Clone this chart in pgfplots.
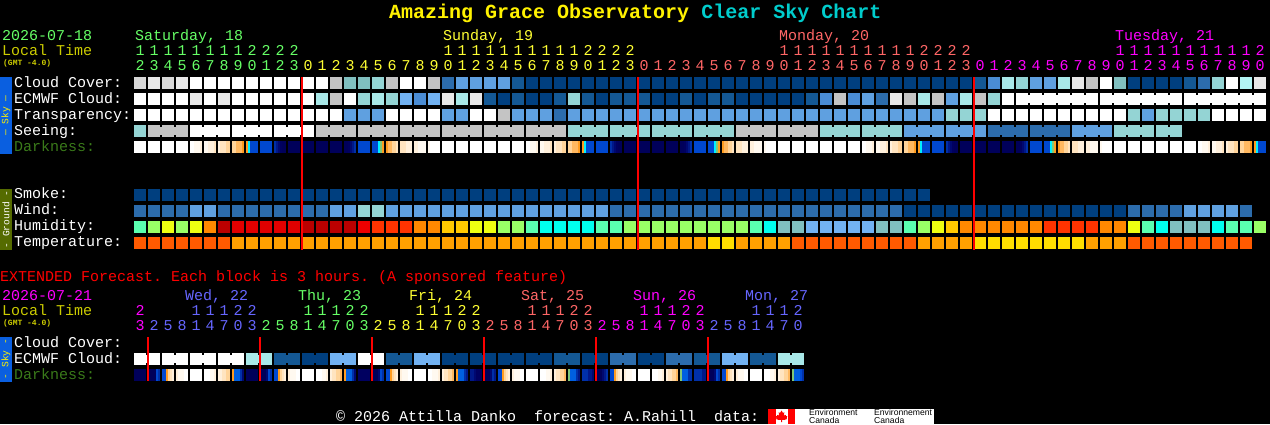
\documentclass[border=0pt]{standalone}
\usepackage{fontspec}
\usepackage{pgfplots}
\usepackage{pgfplotstable}
\pgfplotsset{compat=1.18}
\setmainfont{Liberation Mono}
\newfontfamily\flagfont{Liberation Sans}
\newcommand\txt{\frenchspacing\fontsize{15}{15}\selectfont}
\newcommand\ttl{\bfseries\fontsize{20}{20}\selectfont}

\definecolor{cz}{HTML}{003F7F}\definecolor{cy}{HTML}{145894}\definecolor{cx}{HTML}{2C6CAC}
\definecolor{cp}{HTML}{4A8CD4}\definecolor{cv}{HTML}{5FA0E0}\definecolor{cu}{HTML}{72B2F2}
\definecolor{ct}{HTML}{80BFBF}\definecolor{cs}{HTML}{94D4D4}\definecolor{cq}{HTML}{A8E8E8}
\definecolor{ci}{HTML}{B2F4F4}\definecolor{cg}{HTML}{C4C4C4}\definecolor{cm}{HTML}{D8D8D8}
\definecolor{cl}{HTML}{E8E8E8}
\definecolor{hM}{HTML}{5AFFB0}\definecolor{hG}{HTML}{99FF66}\definecolor{hY}{HTML}{EEFF11}
\definecolor{hF}{HTML}{FFC800}\definecolor{hO}{HTML}{FF8800}\definecolor{hD}{HTML}{BB0000}
\definecolor{hE}{HTML}{E00000}\definecolor{hB}{HTML}{EE0000}\definecolor{hR}{HTML}{FF3300}
\definecolor{hC}{HTML}{00FFEE}\definecolor{hH}{HTML}{FF5A00}\definecolor{hA}{HTML}{FFA000}
\definecolor{hL}{HTML}{FFDD00}
\definecolor{da}{HTML}{FFF9F0}\definecolor{db}{HTML}{FFF0DC}\definecolor{dc}{HTML}{FFE4C0}
\definecolor{dd}{HTML}{FFD49A}\definecolor{de}{HTML}{FFB860}\definecolor{df}{HTML}{FF9C20}
\definecolor{dg}{HTML}{00F0FF}\definecolor{dh}{HTML}{80C878}\definecolor{di}{HTML}{0060E0}
\definecolor{dj}{HTML}{0048D0}\definecolor{dk}{HTML}{0030A8}\definecolor{dl}{HTML}{001888}
\definecolor{dm}{HTML}{000870}\definecolor{dn}{HTML}{000060}\definecolor{do}{HTML}{00005A}
\definecolor{tgreen}{HTML}{66FF66}\definecolor{tyellow}{HTML}{FFFF33}\definecolor{tsalmon}{HTML}{FF6666}
\definecolor{tmag}{HTML}{FF00FF}\definecolor{tblue}{HTML}{6666FF}\definecolor{tlocal}{HTML}{CCCC00}
\definecolor{tdark}{HTML}{3A7A1A}\definecolor{skyblue}{HTML}{0A5FE0}\definecolor{ground}{HTML}{556B00}
\definecolor{ccyan}{HTML}{00CCCC}

% block, stripe and joint shapes, sizes in picture pixels
\pgfdeclareplotmark{cell}{\pgfpathrectanglecorners{\pgfpoint{-6pt}{-6pt}}{\pgfpoint{6pt}{6pt}}\pgfusepathqfill}
\pgfdeclareplotmark{joint}{\pgfpathrectanglecorners{\pgfpoint{-1.1pt}{-4pt}}{\pgfpoint{1.1pt}{4pt}}\pgfusepathqfill}
\pgfdeclareplotmark{stripe}{\pgfpathrectanglecorners{\pgfpoint{-1.05pt}{-6pt}}{\pgfpoint{1.05pt}{6pt}}\pgfusepathqfill}

\pgfplotsset{
  blocks/.style={
    scatter, only marks, scatter src=explicit symbolic,
    scatter/classes={
      z={fill=cz},y={fill=cy},x={fill=cx},p={fill=cp},v={fill=cv},u={fill=cu},
      t={fill=ct},s={fill=cs},q={fill=cq},i={fill=ci},g={fill=cg},m={fill=cm},
      l={fill=cl},w={fill=white},n={fill=black},
      M={fill=hM},G={fill=hG},Y={fill=hY},F={fill=hF},O={fill=hO},D={fill=hD},
      E={fill=hE},B={fill=hB},R={fill=hR},C={fill=hC},H={fill=hH},A={fill=hA},L={fill=hL}},
  },
  dark/.style={
    scatter, only marks, mark=stripe, scatter src=explicit symbolic,
    scatter/classes={
      w={fill=white},a={fill=da},b={fill=db},c={fill=dc},d={fill=dd},e={fill=de},
      f={fill=df},g={fill=dg},h={fill=dh},i={fill=di},j={fill=dj},k={fill=dk},
      l={fill=dl},m={fill=dm},n={fill=dn},o={fill=do}},
  },
  digits/.style={
    only marks, mark=none, point meta=explicit symbolic,
    nodes near coords, nodes near coords align=center,
    every node near coord/.style={anchor=base, inner sep=0pt, text=#1, font=\txt},
  },
}

% hourly forecast, one line per column
\pgfplotstableread{
col t o cl ec ej tr se sj sm wi hu te
0 1 2 m w n w s n z x M H
1 1 3 l w n w g g z x G H
2 1 4 m w n w g g z x Y H
3 1 5 l w n w g n z x G H
4 1 6 w l n w w w z v Y H
5 1 7 w w n w w w z v O H
6 1 8 w l n w w n z x D H
7 1 9 w w n w w w z x E A
8 2 0 w w n w w w z x E A
9 2 1 w w n w w n z x E A
10 2 2 w w n w w w z x E A
11 2 3 w w n w w w z x E A
12 {} 0 w w n w w n z x D A
13 {} 1 w q n w g g z x D A
14 {} 2 g g n w g g z v D A
15 {} 3 t w n v g n z v D A
16 {} 4 t s n v g g z s B A
17 {} 5 s q n v g g z s R A
18 {} 6 g s n w g n z v R A
19 {} 7 w u n w g g z v R A
20 {} 8 w p n w g g z v O A
21 {} 9 g u n w g n z v O A
22 1 0 x l n v g g z v F A
23 1 1 v q n v g g z v F A
24 1 2 v l n w g n z v Y A
25 1 3 v y n w g g z v Y A
26 1 4 v z n g g g z v G A
27 1 5 y y n v g n z v G A
28 1 6 z z n v g g z v M A
29 1 7 z z n v g g z v C A
30 1 8 z y n x g n z v C A
31 1 9 z s n v s s z v C A
32 2 0 z y n v s s z v C A
33 2 1 z z n v s n z v M A
34 2 2 z y n v s s z x M A
35 2 3 z y n v s s z x G A
36 {} 0 z y n v s n z x G A
37 {} 1 z z n v s s z x G A
38 {} 2 z z n v s s z x G A
39 {} 3 z y n v s n z x G A
40 {} 4 z z n v s s z x G A
41 {} 5 z y n v s s z x G L
42 {} 6 z y n v s n z x G L
43 {} 7 z z n v g g z x G A
44 {} 8 z z n v g g z x M A
45 {} 9 z z n v g n z x C A
46 1 0 z z n v g g z x t A
47 1 1 z z n v g g z x t H
48 1 2 z y n v g n z x u H
49 1 3 z p n v s s z x u H
50 1 4 z g n v s s z x u H
51 1 5 z p n v s n z x u H
52 1 6 z v n v s s z x u H
53 1 7 z x n v s s z x t H
54 1 8 z l n v s n z x t H
55 1 9 z g n v v v z z M H
56 2 0 z q n v v v z z G A
57 2 1 z g n v v n n z Y A
58 2 2 z v n s v v n z F A
59 2 3 z q n s v v n z O A
60 {} 0 y g n s v n n z O L
61 {} 1 p s n w x x n z O L
62 {} 2 q w n w x x n z O L
63 {} 3 s w w w x n n z O L
64 {} 4 v w w w x x n z O L
65 {} 5 v w w w x x n z R L
66 {} 6 q w w w x n n z R L
67 {} 7 l w w w v v n z R L
68 {} 8 g w n w v v n z R A
69 {} 9 w w w w v n n z O A
70 1 0 t w w w s s n z O A
71 1 1 z w w s s s n x Y H
72 1 2 z w w v s n n x M H
73 1 3 z w w s s s n x C H
74 1 4 z w n s s n n x t H
75 1 5 y w w s n n n v t H
76 1 6 x w w s n n n v t H
77 1 7 s w w w n n n v C H
78 1 8 w w w w n n n v M H
79 1 9 i w w w n n n x M H
80 2 0 l w n w n n n n G n
}\hourly

% darkness, six stripes in each block
\pgfplotstableread{
col a b c d e f
0 w w w w w w
1 w w w w w w
2 w w w w w w
3 w w w w w w
4 w w a a a b
5 a a b b b c
6 b c c c d d
7 d d e e e f
8 f g j j j j
9 j j j j j j
10 k l m n o o
11 o o o o o o
12 o o o o o o
13 o o o o o o
14 o o o o o o
15 o o n m l k
16 j j j j j j
17 j j j g h f
18 f e e d d c
19 c c c b b b
20 b b a a a a
21 a w w w w w
22 w w w w w w
23 w w w w w w
24 w w w w w w
25 w w w w w w
26 w w w w w w
27 w w w w w w
28 w w a a a b
29 a a b b b c
30 b c c c d d
31 d d e e e f
32 f g j j j j
33 j j j j j j
34 k l m n o o
35 o o o o o o
36 o o o o o o
37 o o o o o o
38 o o o o o o
39 o o n m l k
40 j j j j j j
41 j j j g h f
42 f e e d d c
43 c c c b b b
44 b b a a a a
45 a w w w w w
46 w w w w w w
47 w w w w w w
48 w w w w w w
49 w w w w w w
50 w w w w w w
51 w w w w w w
52 w w a a a b
53 a a b b b c
54 b c c c d d
55 d d e e e f
56 f g j j j j
57 j j j j j j
58 k l m n o o
59 o o o o o o
60 o o o o o o
61 o o o o o o
62 o o o o o o
63 o o n m l k
64 j j j j j j
65 j j j g h f
66 f e e d d c
67 c c c b b b
68 b b a a a a
69 a w w w w w
70 w w w w w w
71 w w w w w w
72 w w w w w w
73 w w w w w w
74 w w w w w w
75 w w w w w w
76 w w a a a b
77 a a b b b c
78 b c c c d d
79 d d e e e f
80 f g j j j j
}\hourlydark

% extended forecast, one line per 3 hour column
\pgfplotstableread{
col t o ec ej a b c d e f
0 2 3 w w o o o o o o
1 {} 2 w n o o o o j k
2 {} 5 w w j j f d c b
3 {} 8 w n b a a a w w
4 1 1 w w w w w w w w
5 1 4 w n w w w a a b
6 1 7 w w b b c c d d
7 2 0 w n f i i i k m
8 2 3 q q o o o o o o
9 {} 2 q n o o o m j k
10 {} 5 y y j j f d c b
11 {} 8 y n b a a a w w
12 1 1 z z w w w w w w
13 1 4 z n w w w a a b
14 1 7 u u b c c d d e
15 2 0 u n f i i i k m
16 2 3 w w n n n n n n
17 {} 2 w n o o o m j k
18 {} 5 y y j j f d c b
19 {} 8 y n b a a a w w
20 1 1 u u w w w w w w
21 1 4 u n w w a a a b
22 1 7 z z b c c d d e
23 2 0 z n f i i i k l
24 2 3 z z l l m n n o
25 {} 2 z n o o o m k l
26 {} 5 z z j j f d c b
27 {} 8 z n b a a a w w
28 1 1 z z w w w w w w
29 1 4 z n w w w a a b
30 1 7 y y b c c d d e
31 2 0 y n h i i i k l
32 2 3 z z k k k l l m
33 {} 2 z n o o o m l k
34 {} 5 x x j j f d c b
35 {} 8 x n b a a a w w
36 1 1 z z w w w w w w
37 1 4 z n w w w a a b
38 1 7 x x b c c d d e
39 2 0 x n h i i i k k
40 2 3 y y k k k k l l
41 {} 2 y n o o o m j k
42 {} 5 u u j j f d c b
43 {} 8 u n b a a a w w
44 1 1 y y w w w w w w
45 1 4 y n w w w a a b
46 1 7 q q b c c d d e
47 2 0 q n h i i i j k
}\extended

% one row of blocks; #1 table, #2 column, #3 pixel y
\newcommand\blockrow[3]{\addplot[blocks, mark=cell] table[x expr=\thisrow{col}*14+140, y expr=#3, meta=#2] {#1};}
\newcommand\jointrow[3]{\addplot[blocks, mark=joint] table[x expr=\thisrow{col}*14+147, y expr=#3, meta=#2] {#1};}
\newcommand\darkrow[2]{%
  \addplot[dark] table[x expr=\thisrow{col}*14+135, y expr=#2, meta=a] {#1};
  \addplot[dark] table[x expr=\thisrow{col}*14+137, y expr=#2, meta=b] {#1};
  \addplot[dark] table[x expr=\thisrow{col}*14+139, y expr=#2, meta=c] {#1};
  \addplot[dark] table[x expr=\thisrow{col}*14+141, y expr=#2, meta=d] {#1};
  \addplot[dark] table[x expr=\thisrow{col}*14+143, y expr=#2, meta=e] {#1};
  \addplot[dark] table[x expr=\thisrow{col}*14+145, y expr=#2, meta=f] {#1};}
% hour digits; #1 table, #2 baseline of tens, #3 colour, #4 x range in pixels
\newcommand\hourdigits[4]{%
  \addplot[digits=#3, restrict x to domain=#4] table[x expr=\thisrow{col}*14+140, y expr=#2, meta=t] {#1};
  \addplot[digits=#3, restrict x to domain=#4] table[x expr=\thisrow{col}*14+140, y expr=#2+15, meta=o] {#1};}
\newcommand\lab[4][white]{\node[anchor=base west, inner sep=0pt, text=#1, font=\txt] at (axis cs:#2,#3) {#4};}

\begin{document}
\begin{tikzpicture}
\begin{axis}[
  width=1270pt, height=424pt, scale only axis,
  xmin=0, xmax=1270, ymin=0, ymax=424, y dir=reverse,
  ticks=none, axis line style={draw=none},
  axis background/.style={fill=black},
  clip mode=individual,
]
% side bars
\fill[skyblue] (axis cs:0,77) rectangle (axis cs:12,154);
\fill[ground] (axis cs:0,189) rectangle (axis cs:12,250);
\fill[skyblue] (axis cs:0,337) rectangle (axis cs:12,381.5);
\node[rotate=90, inner sep=0pt, text=yellow, font=\fontsize{9.6}{9.6}\selectfont] at (axis cs:6,115.5) {--- Sky ---};
\node[rotate=90, inner sep=0pt, text=white, font=\fontsize{9.6}{9.6}\selectfont] at (axis cs:6,219.5) {- Ground -};
\node[rotate=90, inner sep=0pt, text=yellow, font=\fontsize{9.6}{9.6}\selectfont] at (axis cs:6,359) {- Sky -};

% sky and ground rows
\blockrow{\hourly}{cl}{83}
\blockrow{\hourly}{ec}{99}
\jointrow{\hourly}{ej}{99}
\blockrow{\hourly}{tr}{115}
\blockrow{\hourly}{se}{131}
\jointrow{\hourly}{sj}{131}
\darkrow{\hourlydark}{147}
\blockrow{\hourly}{sm}{195}
\blockrow{\hourly}{wi}{211}
\blockrow{\hourly}{hu}{227}
\blockrow{\hourly}{te}{243}
% extended rows
\blockrow{\extended}{ec}{359}
\jointrow{\extended}{ej}{359}
\darkrow{\extended}{375}

% midnight lines
\addplot[red, line width=2pt] coordinates {(302,77) (302,250)};
\addplot[red, line width=2pt] coordinates {(638,77) (638,250)};
\addplot[red, line width=2pt] coordinates {(974,77) (974,250)};
\addplot[red, line width=2pt] coordinates {(148,337) (148,381)};
\addplot[red, line width=2pt] coordinates {(260,337) (260,381)};
\addplot[red, line width=2pt] coordinates {(372,337) (372,381)};
\addplot[red, line width=2pt] coordinates {(484,337) (484,381)};
\addplot[red, line width=2pt] coordinates {(596,337) (596,381)};
\addplot[red, line width=2pt] coordinates {(708,337) (708,381)};

% hour digits
\hourdigits{\hourly}{55}{tgreen}{135:300}
\hourdigits{\hourly}{55}{tyellow}{303:635}
\hourdigits{\hourly}{55}{tsalmon}{639:971}
\hourdigits{\hourly}{55}{tmag}{975:1265}
\hourdigits{\extended}{315}{tmag}{135:147}
\hourdigits{\extended}{315}{tblue}{148:259}
\hourdigits{\extended}{315}{tgreen}{260:371}
\hourdigits{\extended}{315}{tyellow}{372:483}
\hourdigits{\extended}{315}{tsalmon}{484:595}
\hourdigits{\extended}{315}{tmag}{596:707}
\hourdigits{\extended}{315}{tblue}{708:805}

% title
\node[anchor=base west, inner sep=0pt, font=\ttl] at (axis cs:389,18) {\textcolor{yellow}{Amazing Grace Observatory} \textcolor{ccyan}{Clear Sky Chart}};

% header text
\lab[tgreen]{2}{40}{2026-07-18}
\lab[tlocal]{2}{55}{Local Time}
\node[anchor=base west, inner sep=0pt, text=tlocal, font=\bfseries\fontsize{8}{8}\selectfont] at (axis cs:3,65) {(GMT -4.0)};
\lab[tgreen]{135}{40}{Saturday, 18}
\lab[tyellow]{443}{40}{Sunday, 19}
\lab[tsalmon]{779}{40}{Monday, 20}
\lab[tmag]{1115}{40}{Tuesday, 21}

% row labels
\lab{14}{87}{Cloud Cover:}
\lab{14}{103}{ECMWF Cloud:}
\lab{14}{119}{Transparency:}
\lab{14}{135}{Seeing:}
\lab[tdark]{14}{151}{Darkness:}
\lab{14}{198}{Smoke:}
\lab{14}{214}{Wind:}
\lab{14}{230}{Humidity:}
\lab{14}{246}{Temperature:}

% extended block text
\lab[red]{0}{281}{EXTENDED Forecast. Each block is 3 hours. (A sponsored feature)}
\lab[tmag]{2}{300}{2026-07-21}
\lab[tlocal]{2}{315}{Local Time}
\node[anchor=base west, inner sep=0pt, text=tlocal, font=\bfseries\fontsize{8}{8}\selectfont] at (axis cs:3,325) {(GMT -4.0)};
\lab[tblue]{185}{300}{Wed, 22}
\lab[tgreen]{298}{300}{Thu, 23}
\lab[tyellow]{409}{300}{Fri, 24}
\lab[tsalmon]{521}{300}{Sat, 25}
\lab[tmag]{633}{300}{Sun, 26}
\lab[tblue]{745}{300}{Mon, 27}
\lab{14}{347}{Cloud Cover:}
\lab{14}{363}{ECMWF Cloud:}
\lab[tdark]{14}{379}{Darkness:}

% footer and flag
\lab{336}{421}{© 2026 Attilla Danko~~forecast: A.Rahill~~data:}
\fill[white] (axis cs:768,409) rectangle (axis cs:934,424);
\fill[red] (axis cs:768,409) rectangle (axis cs:776,424);
\fill[red] (axis cs:788,409) rectangle (axis cs:795,424);
\fill[red] (axis cs:781.5,410.5) -- (axis cs:783,413) -- (axis cs:784.3,412.3) -- (axis cs:784,415.7) -- (axis cs:785.6,414.8) -- (axis cs:786.2,416) -- (axis cs:787.3,416) -- (axis cs:786.6,418.2) -- (axis cs:787,419) -- (axis cs:784,420) -- (axis cs:782,419.8) -- (axis cs:782,422) -- (axis cs:781,422) -- (axis cs:781,419.8) -- (axis cs:779,420) -- (axis cs:776,419) -- (axis cs:776.4,418.2) -- (axis cs:775.7,416) -- (axis cs:776.8,416) -- (axis cs:777.4,414.8) -- (axis cs:779,415.7) -- (axis cs:778.7,412.3) -- (axis cs:780,413) -- cycle;
\node[anchor=base west, inner sep=0pt, text=black, font=\flagfont\fontsize{8.6}{8.6}\selectfont] at (axis cs:809,415.5) {Environment};
\node[anchor=base west, inner sep=0pt, text=black, font=\flagfont\fontsize{8.6}{8.6}\selectfont] at (axis cs:809,423) {Canada};
\node[anchor=base west, inner sep=0pt, text=black, font=\flagfont\fontsize{8.6}{8.6}\selectfont] at (axis cs:874,415.5) {Environnement};
\node[anchor=base west, inner sep=0pt, text=black, font=\flagfont\fontsize{8.6}{8.6}\selectfont] at (axis cs:874,423) {Canada};
\end{axis}
\end{tikzpicture}
\end{document}
